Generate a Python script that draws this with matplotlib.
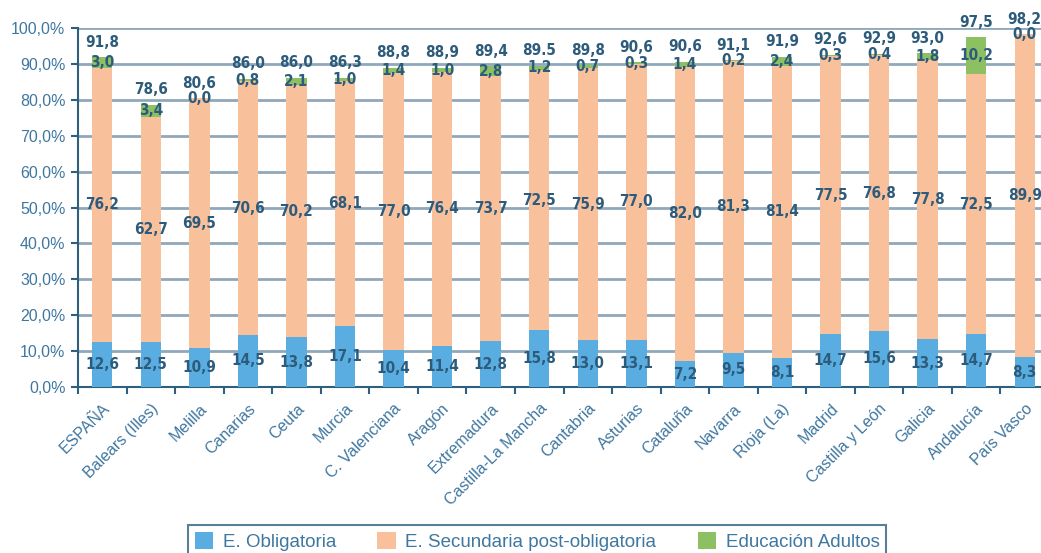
import matplotlib
matplotlib.use('Agg')
import matplotlib.pyplot as plt
import numpy as np

# datos por comunidad (%)
regiones = ["ESPAÑA", "Balears (Illes)", "Melilla", "Canarias", "Ceuta", "Murcia",
            "C. Valenciana", "Aragón", "Extremadura", "Castilla-La Mancha", "Cantabria",
            "Asturias", "Cataluña", "Navarra", "Rioja (La)", "Madrid", "Castilla y León",
            "Galicia", "Andalucía", "País Vasco"]
obligatoria = [12.6, 12.5, 10.9, 14.5, 13.8, 17.1, 10.4, 11.4, 12.8, 15.8,
               13.0, 13.1, 7.2, 9.5, 8.1, 14.7, 15.6, 13.3, 14.7, 8.3]
secundaria = [76.2, 62.7, 69.5, 70.6, 70.2, 68.1, 77.0, 76.4, 73.7, 72.5,
              75.9, 77.0, 82.0, 81.3, 81.4, 77.5, 76.8, 77.8, 72.5, 89.9]
adultos = [3.0, 3.4, 0.0, 0.8, 2.1, 1.0, 1.4, 1.0, 2.8, 1.2,
           0.7, 0.3, 1.4, 0.2, 2.4, 0.3, 0.4, 1.8, 10.2, 0.0]
totales = ["91,8", "78,6", "80,6", "86,0", "86,0", "86,3", "88,8", "88,9", "89,4", "89.5",
           "89,8", "90,6", "90,6", "91,1", "91,9", "92,6", "92,9", "93,0", "97,5", "98,2"]
series = ["E. Obligatoria", "E. Secundaria post-obligatoria", "Educación Adultos"]

colores = ["#5aade0", "#f9c09c", "#8cc063"]
txt_color = "#2d5b7b"
tick_color = "#3f77a0"

fig = plt.figure(figsize=(10.41, 5.53), dpi=100)
ax = fig.add_axes([78 / 1041, 166 / 553, 971 / 1041, 359 / 553])

x = np.arange(len(regiones))
w = 0.42
ob = np.array(obligatoria)
se = np.array(secundaria)
ad = np.array(adultos)

ax.bar(x, ob, w, color=colores[0], label=series[0], zorder=3)
ax.bar(x, se, w, bottom=ob, color=colores[1], label=series[1], zorder=3)
ax.bar(x, ad, w, bottom=ob + se, color=colores[2], label=series[2], zorder=3)

kw = dict(ha='center', va='center', color=txt_color, fontsize=11,
          fontweight='bold', family='DejaVu Sans', fontstretch='condensed', zorder=5)
for i in range(len(regiones)):
    ax.text(x[i], ob[i] / 2, f"{obligatoria[i]:.1f}".replace('.', ','), **kw)
    ax.text(x[i], ob[i] + se[i] / 2, f"{secundaria[i]:.1f}".replace('.', ','), **kw)
    ax.text(x[i], ob[i] + se[i] + ad[i] / 2, f"{adultos[i]:.1f}".replace('.', ','), **kw)
    ax.annotate(totales[i], (x[i], ob[i] + se[i] + ad[i]), xytext=(0, 11),
                textcoords='offset points', **kw)

ax.set_xlim(-0.5, len(regiones) - 0.5)
ax.set_ylim(0, 100)
ax.set_yticks(np.arange(0, 101, 10))
ax.set_yticklabels([f"{v:.1f}%".replace('.', ',') for v in range(0, 101, 10)],
                   color=tick_color, fontsize=11.5, family="Liberation Sans")
ax.yaxis.grid(True, color="#8fa8ba", linewidth=2, zorder=0)
ax.set_axisbelow(True)

ax.set_xticks(x)
ax.set_xticklabels(regiones, rotation=45, ha='right', rotation_mode='anchor',
                   color=tick_color, fontsize=11.5, family="Liberation Sans")
ax.set_xticks(np.arange(-0.5, len(regiones), 1), minor=True)
ax.tick_params(axis='x', which='major', length=0, pad=10)
ax.tick_params(axis='x', which='minor', length=5, color="#2e5f7f", width=1.5)
ax.tick_params(axis='y', length=5, color="#2e5f7f", width=1.5, pad=4)

for s in ['top', 'right']:
    ax.spines[s].set_visible(False)
for s in ['left', 'bottom']:
    ax.spines[s].set_color("#2e5f7f")
    ax.spines[s].set_linewidth(1.5)

leg = fig.legend(loc='upper center', bbox_to_anchor=(0.516, 0.05), ncol=3,
                 frameon=True, fancybox=False, handlelength=1.0,
                 handleheight=1.0, columnspacing=2.2, handletextpad=0.5,
                 borderpad=0.35, borderaxespad=0.0,
                 prop={'family': 'Liberation Sans', 'size': 13.5})
leg.get_frame().set_edgecolor("#2e5f7f")
leg.get_frame().set_linewidth(1.5)
for t in leg.get_texts():
    t.set_color(tick_color)

plt.savefig("out.png", dpi=100)
plt.close()
